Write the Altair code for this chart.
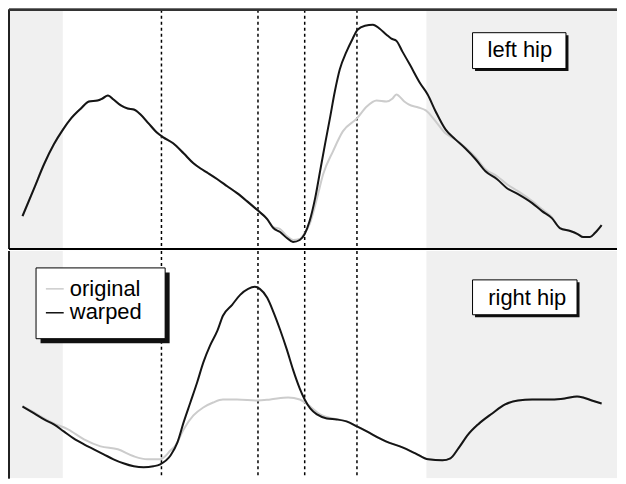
import altair as alt
import pandas as pd

# ---------------- data (time in % of cycle, angle in degrees) ----------------
top_warped_t = [2.2, 4.1, 5.7, 7.3, 8.8, 10.1, 11.7, 13.0, 14.4, 15.2, 16.1, 17.0, 18.2, 19.3, 20.3,
                21.4, 22.7, 24.2, 25.1, 26.7, 28.4, 30.0, 31.1, 32.4, 33.9, 35.5, 37.1, 38.7, 40.4, 42.0,
                43.0, 44.1, 45.2, 46.2, 47.3, 48.1, 48.9, 49.8, 50.6, 51.4, 52.2, 53.0, 53.8, 54.9, 55.9,
                56.7, 57.9, 59.2, 60.3, 61.4, 62.2, 63.0, 64.0, 65.2, 66.9, 68.1, 69.4, 71.0, 72.6, 74.2,
                75.9, 77.5, 79.4, 81.0, 82.8, 85.1, 86.7, 88.3, 89.6, 91.3, 92.5, 93.4, 94.5, 95.3, 96.4]
top_warped_v = [-6.75, 0.25, 6.25, 11.25, 15, 17.75, 20.25, 22, 22.25, 22.75, 23.5, 22.5, 21, 20.25, 20,
                18.75, 16.5, 14, 13, 11.5, 9, 6.5, 5.25, 4, 2.5, 0.75, -1, -3, -5.25, -7.5,
                -9.75, -10.75, -12.25, -13.25, -12.75, -11.25, -8, -2.25, 4.5, 11.25, 17.75, 24.5, 30, 34.5, 37.75,
                40, 41, 41.25, 40.25, 38.75, 37.75, 37.25, 34.5, 31.25, 26.5, 23.75, 19.5, 15, 12.5, 10.25,
                7.5, 4.5, 2.5, 0.25, -1.25, -3.5, -5.5, -7.25, -9.75, -10.5, -11.25, -12, -12, -11, -9]

top_original_t = [2.2, 4.1, 5.7, 7.3, 8.8, 10.1, 11.7, 13.0, 14.4, 15.2, 16.1, 17.0, 18.2, 19.3, 20.3,
                  21.4, 22.7, 24.2, 25.1, 26.7, 28.4, 30.0, 31.1, 32.4, 33.9, 35.5, 37.1, 38.7, 40.4, 42.0,
                  43.0, 44.1, 45.2, 46.2, 47.3, 48.1, 48.9, 50.1, 51.1, 52.7, 54.3, 56.6, 58.2, 59.8, 61.4,
                  62.4, 63.0, 64.3, 65.0, 66.6, 67.8, 69.4, 71.0, 72.6, 74.2, 75.9, 77.5, 79.4, 81.0, 82.8,
                  85.1, 86.7, 88.3, 89.6, 91.3, 92.5, 93.4, 94.5, 95.3, 96.4]
top_original_v = [-6.75, 0.25, 6.25, 11.25, 15, 17.75, 20.25, 22, 22.25, 22.75, 23.5, 22.5, 21, 20.25, 20,
                  18.75, 16.5, 14, 13, 11.5, 9, 6.5, 5.25, 4, 2.5, 0.75, -1, -3, -5.25, -7.5,
                  -9.5, -10, -11.75, -12.75, -12.5, -11, -8.75, -2.25, 3.75, 9.5, 14.5, 17.75, 20.75, 22.25, 22,
                  22.75, 23.75, 22, 21.25, 20.5, 19.75, 17, 14, 12.5, 10.5, 8, 5, 3.25, 1.25, -0.5,
                  -3, -5, -7, -9.75, -10.5, -11.25, -12, -12, -11, -9]

bot_warped_t = [2.2, 4.1, 5.7, 7.3, 8.9, 10.5, 12.2, 13.8, 15.4, 17.0, 18.6, 20.3, 21.9, 23.5, 24.6,
                26.3, 27.4, 28.4, 29.5, 30.6, 31.6, 32.7, 33.9, 34.8, 36.3, 37.6, 38.9, 40.0, 40.8, 42.0,
                43.0, 44.1, 45.2, 46.2, 47.3, 48.1, 49.0, 50.1, 51.7, 53.3, 54.9, 56.6, 58.2, 60.3, 61.3,
                64.0, 66.1, 68.2, 70.5, 71.8, 73.1, 74.7, 76.3, 78.6, 80.7, 82.8, 85.1, 88.3, 90.4, 92.4,
                93.4, 94.8, 96.4]
bot_warped_v = [6, 4.25, 2.75, 1.5, -0.25, -2, -3.5, -4.75, -6, -7.25, -8.25, -9, -9.25, -9, -8.5,
                -6.25, -3, 2, 7, 12, 17, 21.25, 25, 28.75, 31.5, 34, 35.5, 36, 35.5, 33.25,
                29.75, 25.25, 20.25, 15.25, 10.5, 7.75, 5.5, 4, 3, 2.75, 2.25, 1, -0.25, -2, -2.75,
                -4.25, -5.75, -7.25, -7.5, -7, -4.5, -1, 1.5, 4.25, 6.5, 7.5, 7.75, 7.75, 8, 8.5,
                8.25, 7.5, 6.75]

bot_original_t = [2.2, 4.1, 5.7, 7.3, 9.6, 12.2, 14.9, 17.7, 20.3, 22.5, 24.6, 26.3, 27.1, 28.4, 30.0,
                  31.6, 33.2, 34.8, 37.1, 40.4, 42.5, 45.4, 47.3, 49.0, 50.6, 52.7, 54.9, 56.6, 58.2, 60.3,
                  61.3, 64.0, 66.1, 68.2, 70.5, 71.8, 73.1, 74.7, 76.3, 78.6, 80.7, 82.8, 85.1, 88.3, 90.4,
                  92.4, 93.4, 94.8, 96.4]
bot_original_v = [6, 4.5, 3, 1.75, 0.25, -2.25, -4, -4.75, -6.5, -7.25, -7.25, -5, -3.75, 0.25, 3.75,
                  5.75, 7, 7.75, 7.75, 7.5, 7.75, 8.25, 7.75, 6, 4, 3, 2.25, 1, -0.25, -2,
                  -2.75, -4.25, -5.75, -7.25, -7.5, -7, -4.5, -1, 1.5, 4.25, 6.5, 7.5, 7.75, 7.75, 8,
                  8.5, 8.25, 7.5, 6.75]

shade_start = [0, 67.9]
shade_end = [8.75, 100]
event_times = [24.8, 40.5, 48.1, 56.6]
series_names = ["original", "warped"]
panel_labels = ["left hip", "right hip"]

# ---------------- styling ----------------
W = 610
H_TOP = 240
H_BOT = 228
X_MAX = 98.9          # visible part of the cycle (the figure is cropped on the right)
FONT = "Liberation Sans, Arial"
FS = 22
GRAY = "#cccccc"
BLACK = "#151515"
SHADE = "#f0f0f0"

xs = alt.Scale(domain=[0, X_MAX], nice=False, zero=False)
X_ENC = alt.X("t:Q", scale=xs, axis=None)

shade_df = pd.DataFrame({"a": shade_start, "b": shade_end})
ev_df = pd.DataFrame({"t": event_times})


def boxed(df, ys, off):
    bx = alt.X("x0:Q", scale=xs, axis=None)
    by = alt.Y("y0:Q", scale=ys, axis=None)
    shadow = alt.Chart(df).mark_rect(color="#111", xOffset=off, x2Offset=off, yOffset=off, y2Offset=off).encode(
        x=bx, x2="x1:Q", y=by, y2="y1:Q")
    box = alt.Chart(df).mark_rect(fill="white", stroke="black", strokeWidth=1).encode(
        x=bx, x2="x1:Q", y=by, y2="y1:Q")
    return [shadow, box]


def panel(orig_t, orig_v, warp_t, warp_v, ydom, H, label, box, text_pos, legend=False):
    ys = alt.Scale(domain=ydom, nice=False, zero=False)
    Y_ENC = alt.Y("v:Q", scale=ys, axis=None)
    shade = alt.Chart(shade_df).mark_rect(color=SHADE, clip=True).encode(
        x=alt.X("a:Q", scale=xs, axis=None), x2="b:Q", y=alt.value(0), y2=alt.value(H))
    rules = alt.Chart(ev_df).mark_rule(color="black", strokeDash=[3, 3], strokeWidth=1.5).encode(x=X_ENC)
    gray = alt.Chart(pd.DataFrame({"t": orig_t, "v": orig_v})).mark_line(
        color=GRAY, strokeWidth=2, interpolate="monotone").encode(x=X_ENC, y=Y_ENC)
    black = alt.Chart(pd.DataFrame({"t": warp_t, "v": warp_v})).mark_line(
        color=BLACK, strokeWidth=2, interpolate="monotone").encode(x=X_ENC, y=Y_ENC)

    bdf = pd.DataFrame({"x0": [box[0]], "x1": [box[1]], "y0": [box[2]], "y1": [box[3]]})
    tdf = pd.DataFrame({"t": [text_pos[0]], "v": [text_pos[1]], "s": [label]})
    txt = alt.Chart(tdf).mark_text(font=FONT, fontSize=FS, align="center", baseline="alphabetic",
                                   color="black").encode(x=X_ENC, y=Y_ENC, text="s:N")
    layers = [shade, rules, gray, black] + boxed(bdf, ys, 2.5) + [txt]

    if legend:
        ldf = pd.DataFrame({"x0": [4.4], "x1": [25.4], "y0": [40.75], "y1": [23.0]})
        sym = pd.DataFrame({"x0": [6.0, 6.0], "x1": [8.9, 8.9], "v": [35.5, 29.5], "s": series_names})
        lsym = alt.Chart(sym).mark_rule(strokeWidth=1.5).encode(
            x=alt.X("x0:Q", scale=xs, axis=None), x2="x1:Q", y=alt.Y("v:Q", scale=ys, axis=None),
            color=alt.Color("s:N", scale=alt.Scale(domain=series_names, range=[GRAY, BLACK]), legend=None))
        ltxt_df = pd.DataFrame({"t": [9.9, 9.9], "v": [33.75, 28.0], "s": series_names})
        ltxt = alt.Chart(ltxt_df).mark_text(font=FONT, fontSize=FS, align="left", baseline="alphabetic",
                                            color="black").encode(x=X_ENC, y=Y_ENC, text="s:N")
        layers += boxed(ldf, ys, 4.5) + [lsym, ltxt]

    # frame (left edge)
    left = alt.Chart(ev_df).mark_rule(color="#222", strokeWidth=2).encode(
        x=alt.value(0), y=alt.value(0), y2=alt.value(H))
    layers.append(left)
    return alt.layer(*layers).properties(width=W, height=H)


top = panel(top_original_t, top_original_v, top_warped_t, top_warped_v, [-15, 45], H_TOP,
            panel_labels[0], (75.4, 90.6, 39.25, 30.25), (83.1, 33.25))
top_frame = alt.Chart(ev_df).mark_rule(color="#333", strokeWidth=2).encode(
    x=alt.value(0), x2=alt.value(W), y=alt.value(0))
sep = alt.Chart(ev_df).mark_rule(color="black", strokeWidth=2).encode(
    x=alt.value(0), x2=alt.value(W), y=alt.value(H_TOP))
top = alt.layer(top, top_frame, sep).properties(width=W, height=H_TOP)

bottom = panel(bot_original_t, bot_original_v, bot_warped_t, bot_warped_v, [-12, 45], H_BOT,
               panel_labels[1], (75.4, 92.4, 37.75, 29.0), (84.3, 31.5), legend=True)

chart = alt.vconcat(top, bottom, spacing=0).properties(padding=0, background="white") \
    .configure_view(stroke=None).configure_concat(spacing=0)

chart.save("out.html", embed_options={"renderer": "svg", "actions": False})
